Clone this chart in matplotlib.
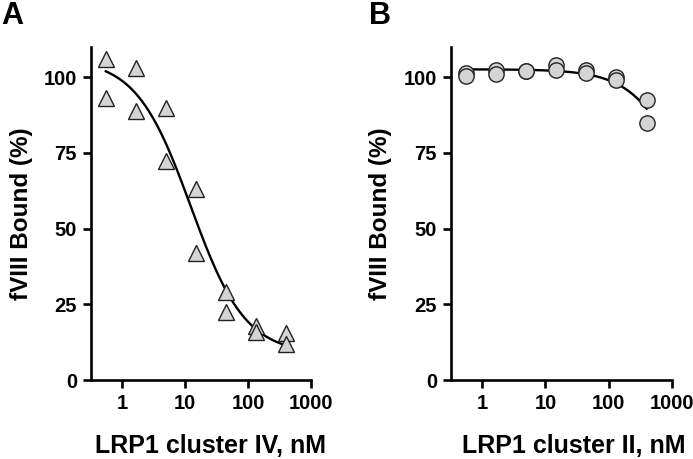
import numpy as np
import matplotlib.pyplot as plt

plt.rcParams['font.family'] = ['Liberation Sans', 'DejaVu Sans']
plt.rcParams['font.weight'] = 'bold'

# data (LRP1 concentration, nM; fVIII bound, %)
conc = [0.55, 0.55, 1.65, 1.65, 4.9, 4.9, 14.8, 14.8, 44.4, 44.4, 133, 133, 400, 400]
bound_iv = [106, 93, 103, 89, 90, 72.5, 63, 42, 29, 22.5, 18, 16, 15.5, 12]
bound_ii = [101.5, 100.5, 102.5, 101, 102, 102, 104, 102.5, 102.5, 101.5, 100, 99, 92.5, 85]
yticks = [0, 25, 50, 75, 100]
xticks = [1, 10, 100, 1000]


def fit_logistic(x, y, hills, free_bottom=True):
    # grid search on logIC50 / hill, least squares for top and bottom
    lx = np.log10(np.asarray(x, float))
    y = np.asarray(y, float)
    lcs = np.linspace(-1, 5, 601)
    hs = np.asarray(hills, float)
    s = 1.0 / (1.0 + 10 ** ((lx[None, None, :] - lcs[:, None, None]) * hs[None, :, None]))
    if free_bottom:
        sm = s.mean(-1, keepdims=True)
        ym = y.mean()
        slope = ((s - sm) * (y - ym)).sum(-1) / ((s - sm) ** 2).sum(-1)
        bot = ym - slope * sm[..., 0]
        top = bot + slope
    else:
        top = (s * y).sum(-1) / (s * s).sum(-1)
        bot = np.zeros_like(top)
    pred = bot[..., None] + (top - bot)[..., None] * s
    sse = ((pred - y) ** 2).sum(-1)
    i, j = np.unravel_index(np.argmin(sse), sse.shape)
    return top[i, j], bot[i, j], lcs[i], hs[j]


def curve(xs, top, bot, lc, h):
    return bot + (top - bot) / (1 + 10 ** ((np.log10(xs) - lc) * h))


fig = plt.figure(figsize=(6.93, 4.59), dpi=100)
axA = fig.add_axes([0.1313, 0.1721, 0.3175, 0.7255])
axB = fig.add_axes([0.6508, 0.1721, 0.3185, 0.7255])

xs = np.logspace(np.log10(min(conc)), np.log10(max(conc)), 200)

pA = fit_logistic(conc, bound_iv, [1.0])
axA.plot(xs, curve(xs, *pA), color='black', lw=1.7, zorder=2)
axA.plot(conc, bound_iv, ls='none', marker='^', ms=11.5, mfc='#d4d4d4',
         mec='#222222', mew=1.0, zorder=3, clip_on=False)

pB = fit_logistic(conc, bound_ii, [1.0], free_bottom=False)
axB.plot(xs, curve(xs, *pB), color='black', lw=1.7, zorder=2)
axB.plot(conc, bound_ii, ls='none', marker='o', ms=11, mfc='#d4d4d4',
         mec='#222222', mew=1.0, zorder=3, clip_on=False)

for ax, lab, xl_x, yl_x in [(axA, 'LRP1 cluster IV, nM', 0.545, -0.262),
                            (axB, 'LRP1 cluster II, nM', 0.555, -0.268)]:
    ax.set_xscale('log')
    ax.set_xlim(0.32, 1000)
    ax.set_ylim(0, 110)
    ax.set_xticks(xticks)
    ax.set_xticklabels([str(t) for t in xticks])
    ax.minorticks_off()
    ax.set_yticks(yticks)
    for sp in ['top', 'right']:
        ax.spines[sp].set_visible(False)
    for sp in ['left', 'bottom']:
        ax.spines[sp].set_linewidth(1.9)
    ax.tick_params(width=1.9, length=6, labelsize=14.5, pad=4)
    for t in ax.get_xticklabels() + ax.get_yticklabels():
        t.set_fontweight('bold')
    ax.set_xlabel(lab, fontsize=18, fontweight='bold')
    ax.set_ylabel('fVIII Bound (%)', fontsize=17.5, fontweight='bold')
    ax.xaxis.set_label_coords(xl_x, -0.163)
    ax.yaxis.set_label_coords(yl_x, 0.5)

fig.text(0.002, 0.998, 'A', fontsize=22, fontweight='bold', va='top', ha='left')
fig.text(0.532, 0.998, 'B', fontsize=22, fontweight='bold', va='top', ha='left')

fig.savefig('out.png', dpi=100)
